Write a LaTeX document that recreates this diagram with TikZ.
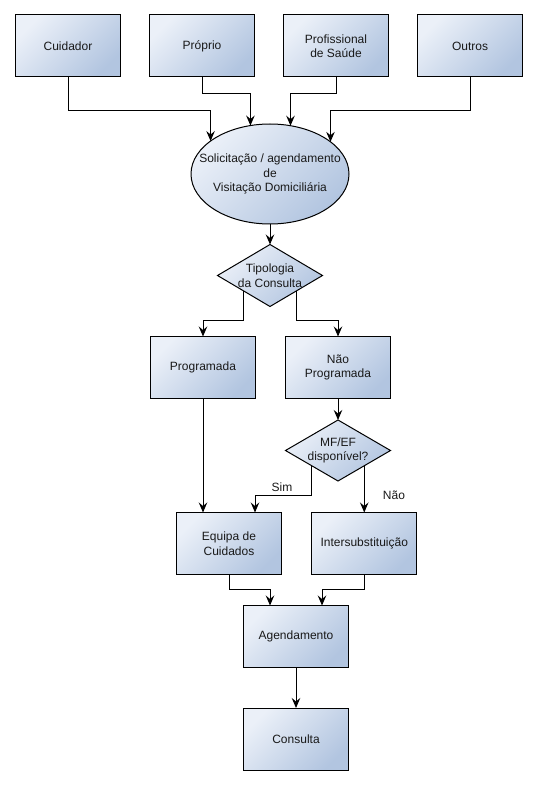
\documentclass[tikz,border=0pt]{standalone}
\usepackage{fontspec}
\setmainfont{Liberation Sans}
\usetikzlibrary{arrows.meta,shapes.geometric,calc}
\definecolor{boxlight}{HTML}{EBF0F8}
\definecolor{boxdark}{HTML}{B2C5E0}
\begin{document}
\begin{tikzpicture}[x=1pt,y=-1pt,
  every node/.style={font=\fontsize{12}{14.5}\selectfont, text=black!90},
  shadebox/.style={draw=black, line width=1pt, top color=boxlight, bottom color=boxdark, shading angle=45, outer sep=0pt, inner sep=0pt},
  procbox/.style={shadebox, rectangle, minimum width=105pt, minimum height=62pt, align=center},
  decbox/.style={shadebox, diamond, minimum width=105pt, minimum height=62pt},
  ellbox/.style={shadebox, ellipse, minimum width=158pt, minimum height=100pt},
  lbl/.style={align=center, inner sep=0pt},
  arr/.style={draw=black, line width=1pt, -{Stealth[length=10pt,width=8.5pt,inset=3.5pt]}}
]
\useasboundingbox (0,0) rectangle (540,786);

% top sources
\node[procbox] (cuid) at (68,46) {Cuidador};
\node[procbox] (prop) at (202,46) {Próprio};
\node[procbox] (prof) at (336,46) {Profissional\\de Saúde};
\node[procbox] (outr) at (470,46) {Outros};

% ellipse
\node[ellbox] (ell) at (270,174) {};
\node[lbl] (ellt) at (ell.center) {Solicitação / agendamento\\de\\Visitação Domiciliária};

% decision: tipologia
\node[decbox] (tip) at (270,275.5) {};
\node[lbl] (tipt) at (tip.center) {Tipologia\\da Consulta};

\node[procbox] (prog) at (203,367.5) {Programada};
\node[procbox] (nprog) at (338,367.5) {Não\\Programada};

% decision: MF/EF
\node[decbox, minimum height=61pt] (mf) at (338,450.5) {};
\node[lbl] (mft) at (mf.center) {MF/EF\\disponível?};

\node[procbox] (equipa) at (229,543.5) {Equipa de\\Cuidados};
\node[procbox] (inter) at (364.25,543.5) {Intersubstituição};

\node[procbox] (agen) at (296,636.5) {Agendamento};
\node[procbox] (cons) at (296,739) {Consulta};

% connectors from sources
\draw[arr] (cuid.south) -- ++(0,34) -| (ell.151.53);
\draw[arr] (prop.south) -- ++(0,17) -| (ell.112.47);
\draw[arr] (prof.south) -- ++(0,17) -| (ell.67.53);
\draw[arr] (outr.south) -- ++(0,34) -| (ell.28.47);

\draw[arr] (ell.south) -- (tip.north);

\draw[arr] ($(tip.west)!0.5!(tip.south)$) |- ($(prog.north)+(0,-16)$) -- (prog.north);
\draw[arr] ($(tip.east)!0.5!(tip.south)$) |- ($(nprog.north)+(0,-16)$) -- (nprog.north);

\draw[arr] (nprog.south) -- (mf.north);
\draw[arr] (prog.south) -- (prog.south |- equipa.north);

\draw[arr] ($(mf.west)!0.5!(mf.south)$) |- ($(equipa.north)+(26,-17.5)$) -- ($(equipa.north)+(26,0)$);
\node[lbl] (simlbl) at (282,487) {Sim};
\coordinate (naoexit) at ($(mf.east)!0.5!(mf.south)$);
\draw[arr] (naoexit) -- (naoexit |- inter.north);
\node[lbl] (naolbl) at (394,495.5) {Não};

\draw[arr] (equipa.south) |- ($(agen.north)+(-26,-16)$) -- ($(agen.north)+(-26,0)$);
\draw[arr] (inter.south) |- ($(agen.north)+(26,-16)$) -- ($(agen.north)+(26,0)$);

\draw[arr] (agen.south) -- (cons.north);
\end{tikzpicture}
\end{document}
